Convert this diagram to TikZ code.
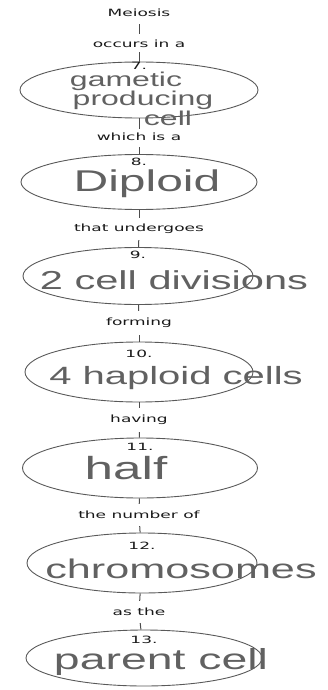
\documentclass[tikz,border=0pt]{standalone}
\usepackage{fontspec}
\usepackage{tikz}
\usetikzlibrary{shapes.geometric, positioning}

\newfontfamily\lblfont[FakeStretch=1.7]{DejaVu Sans}
\newfontfamily\handfont[FakeStretch=1.6]{Liberation Sans}

\begin{document}
\begin{tikzpicture}[
  x=1pt, y=-1pt,
  % Printed linking words
  lbl/.style={font=\lblfont\fontsize{10}{12}\selectfont, text=black!90, inner sep=1pt},
  % Item number inside a concept
  num/.style={lbl, anchor=north},
  % Concept ellipse (empty, fixed size)
  concept/.style={ellipse, draw=black!65, line width=0.9pt, inner sep=0pt,
    minimum width=236pt, minimum height=56pt},
  % Handwritten answer
  hand/.style={font=\handfont\fontsize{#1}{#1}\selectfont, text=black!62, inner sep=0pt},
  hand/.default=28,
  % Connector
  link/.style={draw=black!70, line width=1pt}
]
\useasboundingbox (0,0) rectangle (328,690);

%% Linking words
\node[lbl] (meiosis)   at (139,13)  {Meiosis};
\node[lbl] (occurs)    at (139,44)  {occurs in a};
\node[lbl] (which)     at (139,137) {which is a};
\node[lbl] (undergoes) at (139,229) {that undergoes};
\node[lbl] (forming)   at (139,323) {forming};
\node[lbl] (having)    at (139,420) {having};
\node[lbl] (numberof)  at (139,515) {the number of};
\node[lbl] (asthe)     at (139,612) {as the};

%% Concept ellipses
\node[concept, minimum width=238pt]                      (c7)  at (139,90)  {};
\node[concept, minimum height=55pt]                      (c8)  at (139,182) {};
\node[concept, minimum width=230pt, minimum height=57pt] (c9)  at (138,276) {};
\node[concept, minimum width=228pt, minimum height=60pt] (c10) at (139,372) {};
\node[concept, minimum width=235pt, minimum height=60pt] (c11) at (140,468) {};
\node[concept, minimum width=230pt, minimum height=60pt] (c12) at (142,563) {};
\node[concept, minimum height=56pt]                      (c13) at (144,658) {};

%% Numbers
\node[num, below=-1pt of c7.north] (n7)  {7.};
\node[num, below=3pt of c8.north]  (n8)  {8.};
\node[num, below=3pt of c9.north]  (n9)  {9.};
\node[num, below=7pt of c10.north] (n10) {10.};
\node[num, below=4pt of c11.north] (n11) {11.};
\node[num, below=8pt of c12.north] (n12) {12.};
\node[num, below=5pt of c13.north] (n13) {13.};

%% Handwritten answers
\node[hand=20] (h7a) at (126,81.5) {gametic};
\node[hand=20] (h7b) at (143,100.5) {producing};
\node[hand=20] (h7c) at (168,118) {cell};
\node[hand=30] (h8)  at (147,184) {Diploid};
\node[hand=26] (h9)  at (174,280) {2 cell divisions};
\node[hand=25] (h10) at (176,378) {4 haploid cells};
\node[hand=32] (h11) at (126,468) {half};
\node[hand=27] (h12) at (181,569) {chromosomes};
\node[hand=29] (h13) at (161,662) {parent cell};

%% Connectors
\draw[link, shorten <=6pt, shorten >=5pt] (meiosis) -- (occurs);
\draw[link, shorten <=3pt] (occurs) -- (c7);
\draw[link, shorten >=3pt] (c7) -- (which);
\draw[link, shorten <=5pt] (which) -- (c8);
\draw[link, shorten >=5pt] (c8) -- (undergoes);
\draw[link, shorten <=5pt] (undergoes) -- (c9);
\draw[link, shorten >=6pt] (c9) -- (forming);
\draw[link, shorten <=6pt] (forming) -- (c10);
\draw[link, shorten >=6pt] (c10) -- (having);
\draw[link, shorten <=6pt] (having) -- (c11);
\draw[link, shorten >=6pt] (c11) -- (numberof);
\draw[link, shorten <=6pt] (numberof) -- (c12);
\draw[link, shorten >=6pt] (c12) -- (asthe);
\draw[link, shorten <=6pt] (asthe) -- (c13);

\end{tikzpicture}
\end{document}
